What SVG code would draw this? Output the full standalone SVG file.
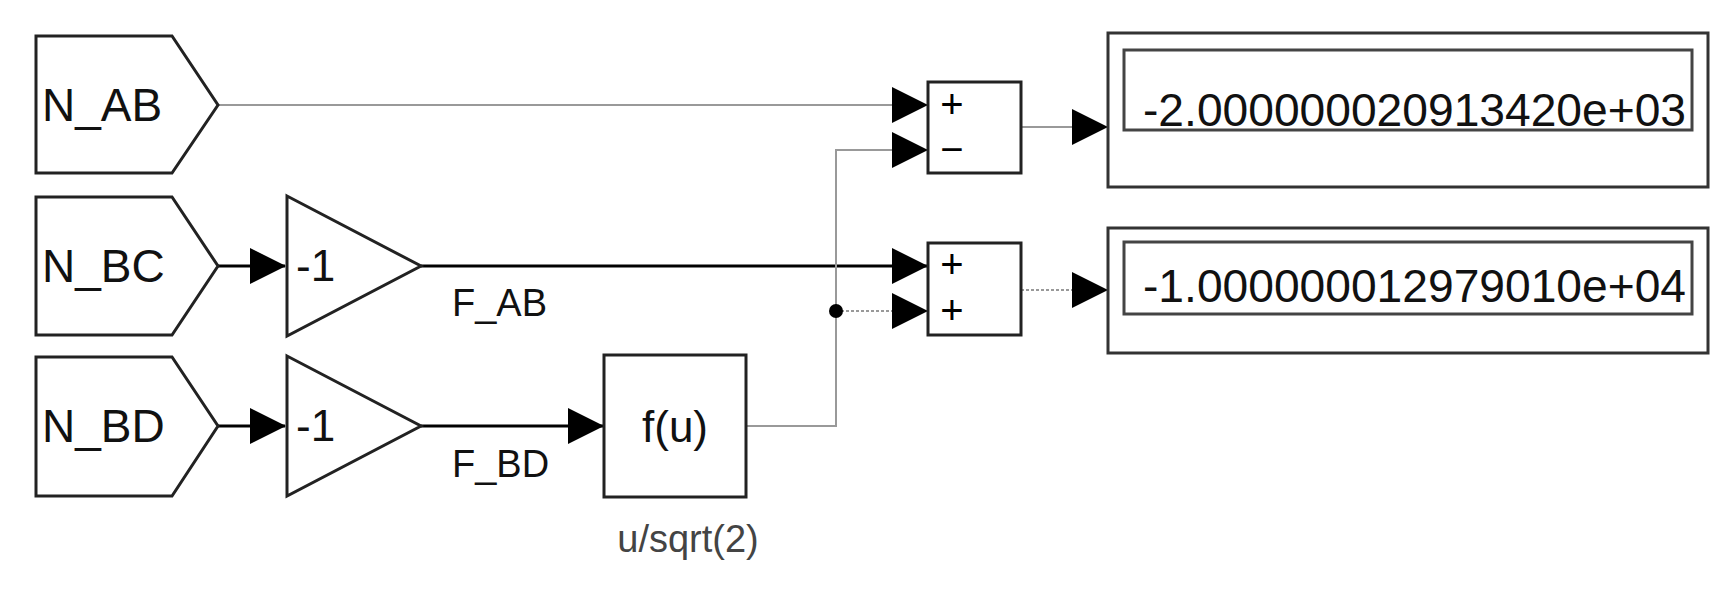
<svg xmlns="http://www.w3.org/2000/svg" width="1728" height="614" viewBox="0 0 1728 614">
<style>
.b{fill:#fff;stroke:#222;stroke-width:3}
.t{font-family:"Liberation Sans",Arial,sans-serif;fill:#111}
.w{fill:none;stroke:#999;stroke-width:2}
.k{fill:none;stroke:#000;stroke-width:3}
.s{font-family:"Liberation Sans",Arial,sans-serif;font-size:40px;fill:#000;text-anchor:middle}
</style>
<defs>
<marker id="a" markerWidth="36" markerHeight="36" refX="35" refY="18" orient="auto" markerUnits="userSpaceOnUse"><path d="M0,0 L36,18 L0,36 Z" fill="#000"/></marker>
</defs>
<rect width="1728" height="614" fill="#fff"/>
<g id="connectors">
<path class="w" d="M218,105 H927" marker-end="url(#a)"/>
<path class="k" d="M218,266 H285" marker-end="url(#a)"/>
<path class="k" d="M421,266 H927" marker-end="url(#a)"/>
<path class="k" d="M218,426 H285" marker-end="url(#a)"/>
<path class="k" d="M421,426 H603" marker-end="url(#a)"/>
<path class="w" d="M746,426 H836 V150 H927" marker-end="url(#a)"/>
<path class="w" d="M836,311 H927" stroke-dasharray="3,2" marker-end="url(#a)"/>
<circle cx="836" cy="311" r="7" fill="#000"/>
<path class="w" d="M1021,127 H1107" marker-end="url(#a)"/>
<path class="w" d="M1021,290 H1107" stroke-dasharray="3,2" marker-end="url(#a)"/>
</g>
<g id="N_AB"><path class="b" d="M36,36 H172 L218,105 L172,173 H36 Z"/><text class="t" x="42" y="121" font-size="46">N_AB</text></g>
<g id="N_BC"><path class="b" d="M36,197 H172 L218,266 L172,335 H36 Z"/><text class="t" x="42" y="282" font-size="46">N_BC</text></g>
<g id="N_BD"><path class="b" d="M36,357 H172 L218,426 L172,496 H36 Z"/><text class="t" x="42" y="442" font-size="46">N_BD</text></g>
<g id="gain1"><path class="b" d="M287,196 L421,266 L287,336 Z"/><text class="t" x="296" y="281" font-size="44">-1</text></g>
<g id="gain2"><path class="b" d="M287,356 L421,426 L287,496 Z"/><text class="t" x="296" y="441" font-size="44">-1</text></g>
<text class="t" x="452" y="316" font-size="38">F_AB</text>
<text class="t" x="452" y="477" font-size="38">F_BD</text>
<g id="fcn"><rect class="b" x="604" y="355" width="142" height="142"/><text class="t" x="675" y="442" font-size="44" text-anchor="middle">f(u)</text><text x="688" y="552" font-size="38" text-anchor="middle" font-family="Liberation Sans,Arial,sans-serif" fill="#444">u/sqrt(2)</text></g>
<g id="sum1"><rect class="b" x="928" y="82" width="93" height="91"/><text class="s" x="952" y="118">+</text><text class="s" x="952" y="163">−</text></g>
<g id="sum2"><rect class="b" x="928" y="243" width="93" height="92"/><text class="s" x="952" y="278">+</text><text class="s" x="952" y="324">+</text></g>
<g id="disp1"><rect x="1108" y="33" width="600" height="154" fill="#fff" stroke="#333" stroke-width="3"/><rect x="1124" y="50" width="568" height="80" fill="#fff" stroke="#444" stroke-width="3"/><text class="t" x="1686" y="126" font-size="46" text-anchor="end" textLength="543" lengthAdjust="spacingAndGlyphs">-2.000000020913420e+03</text></g>
<g id="disp2"><rect x="1108" y="228" width="600" height="125" fill="#fff" stroke="#333" stroke-width="3"/><rect x="1124" y="242" width="568" height="72" fill="#fff" stroke="#444" stroke-width="3"/><text class="t" x="1686" y="302" font-size="46" text-anchor="end" textLength="543" lengthAdjust="spacingAndGlyphs">-1.000000012979010e+04</text></g>
</svg>
